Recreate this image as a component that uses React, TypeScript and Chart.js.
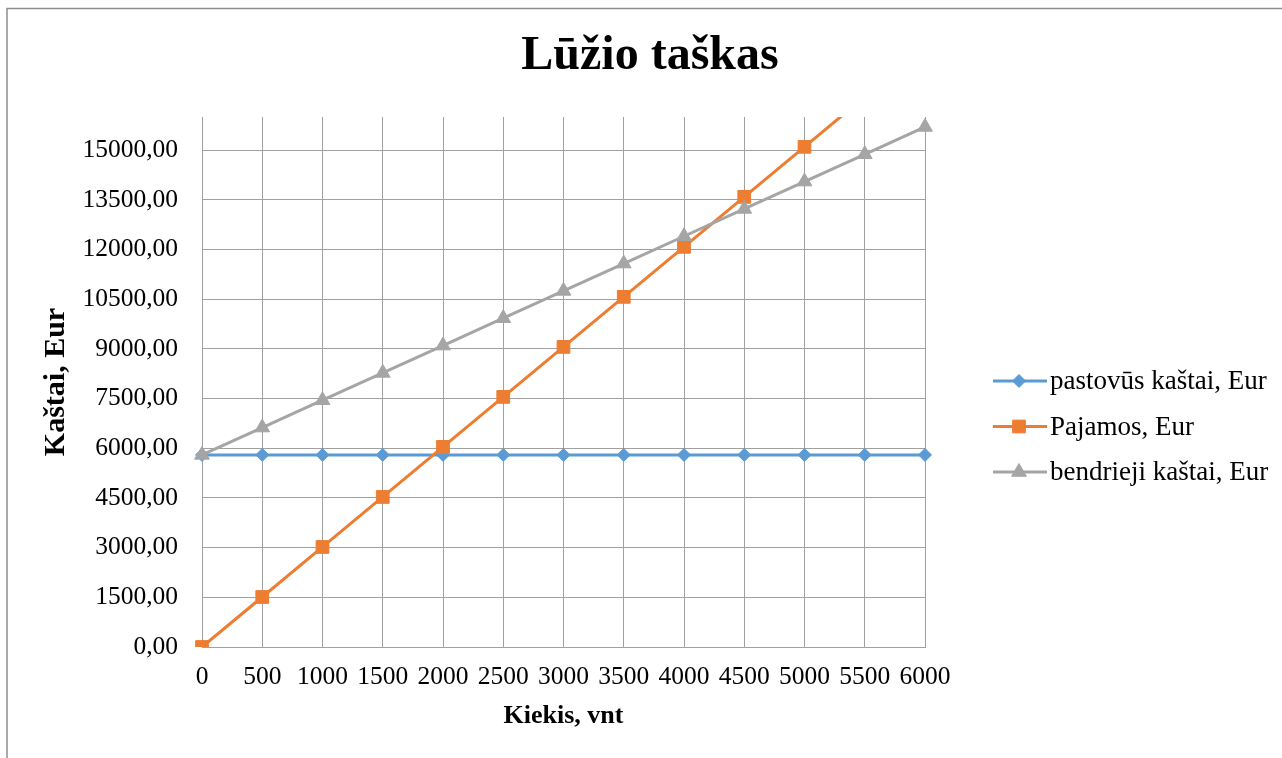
import React, { useEffect, useRef } from 'react';
import { Chart, registerables } from 'chart.js';
import { drawPoint } from 'chart.js/helpers';

Chart.register(...registerables);

const categories = ['0', '500', '1000', '1500', '2000', '2500', '3000', '3500', '4000', '4500', '5000', '5500', '6000'];
const fixedCosts = [5800, 5800, 5800, 5800, 5800, 5800, 5800, 5800, 5800, 5800, 5800, 5800, 5800];
const revenue = [0, 1510, 3020, 4530, 6040, 7550, 9060, 10570, 12080, 13590, 15100, 16610, 18120];
const totalCosts = [5800, 6625, 7450, 8275, 9100, 9925, 10750, 11575, 12400, 13225, 14050, 14875, 15700];
const yTickValues = [0, 1500, 3000, 4500, 6000, 7500, 9000, 10500, 12000, 13500, 15000];
const seriesNames = ['pastovūs kaštai, Eur', 'Pajamos, Eur', 'bendrieji kaštai, Eur'];
const seriesColors = ['#5B9BD5', '#ED7D31', '#A5A5A5'];
const seriesMarkers = ['rectRot', 'rect', 'triangle'];
const markerRadius = [6.5, 9, 8.5];
const chartTitle = 'Lūžio taškas';
const xTitle = 'Kiekis, vnt';
const yTitle = 'Kaštai, Eur';
const yMin = 0;
const yMax = 16000;

const SERIF = "'Times New Roman', 'Liberation Serif', serif";
const GRID = '#a0a0a0';

const decorPlugin = {
  id: 'decor',
  afterDraw(chart: any) {
    const ctx = chart.ctx as CanvasRenderingContext2D;
    ctx.save();
    // outer border (top & left visible)
    ctx.strokeStyle = '#8f8f8f';
    ctx.lineWidth = 1.5;
    ctx.beginPath();
    ctx.moveTo(7, 758);
    ctx.lineTo(7, 8.5);
    ctx.lineTo(1282, 8.5);
    ctx.stroke();

    // title
    ctx.fillStyle = '#000';
    ctx.font = `bold 48px ${SERIF}`;
    ctx.textAlign = 'center';
    ctx.textBaseline = 'alphabetic';
    ctx.fillText(chartTitle, 650, 69);

    // legend
    const datasets = chart.data.datasets;
    datasets.forEach((ds: any, i: number) => {
      const y = 381 + i * 45.5;
      ctx.strokeStyle = ds.borderColor;
      ctx.lineWidth = 3;
      ctx.beginPath();
      ctx.moveTo(993, y);
      ctx.lineTo(1047, y);
      ctx.stroke();
      ctx.fillStyle = ds.pointBackgroundColor;
      ctx.strokeStyle = ds.pointBorderColor;
      ctx.lineWidth = 1;
      drawPoint(ctx, { pointStyle: ds.pointStyle, radius: ds.pointRadius, borderWidth: 1, rotation: 0 } as any, 1019, y);
      ctx.fillStyle = '#000';
      ctx.font = `27px ${SERIF}`;
      ctx.textAlign = 'left';
      ctx.textBaseline = 'middle';
      ctx.fillText(ds.label, 1050, y + 1);
    });
    ctx.restore();
  },
};

const fmt = (v: number) => v.toFixed(2).replace('.', ',');

export default function App() {
  const ref = useRef<HTMLCanvasElement>(null);
  useEffect(() => {
    if (!ref.current) return;
    const series = [fixedCosts, revenue, totalCosts];
    const chart = new Chart(ref.current, {
      type: 'line',
      data: {
        labels: categories,
        datasets: series.map((d, i) => ({
          label: seriesNames[i],
          data: d,
          borderColor: seriesColors[i],
          backgroundColor: seriesColors[i],
          pointBackgroundColor: seriesColors[i],
          pointBorderColor: seriesColors[i],
          pointStyle: seriesMarkers[i] as any,
          pointRadius: markerRadius[i],
          pointBorderWidth: 1,
          borderWidth: 3,
          tension: 0,
          fill: false,
          order: 3 - i,
        })),
      },
      options: {
        animation: false,
        responsive: false,
        devicePixelRatio: 1,
        events: [],
        layout: { padding: { left: 0, top: 117, right: 357, bottom: 0 } },
        plugins: {
          legend: { display: false },
          title: { display: false },
          tooltip: { enabled: false },
        },
        scales: {
          x: {
            type: 'category',
            offset: false,
            grid: { color: GRID, lineWidth: 1, drawTicks: false },
            border: { color: GRID, width: 1 },
            ticks: { font: { family: SERIF, size: 25.5 }, color: '#000', padding: 15, maxRotation: 0, autoSkip: false },
            title: {
              display: true,
              text: xTitle,
              color: '#000',
              font: { family: SERIF, size: 26, weight: 'bold' },
              padding: { top: 0, bottom: 26 },
            },
            afterFit: (s: any) => {
              s.height = 111;
            },
          },
          y: {
            type: 'linear',
            min: yMin,
            max: yMax,
            bounds: 'data',
            grid: { color: GRID, lineWidth: 1, drawTicks: false },
            border: { color: GRID, width: 1 },
            afterBuildTicks: (s: any) => {
              s.ticks = yTickValues.map((v) => ({ value: v }));
            },
            ticks: {
              font: { family: SERIF, size: 25.5 },
              color: '#000',
              padding: 24,
              callback: (v: any) => fmt(Number(v)),
            },
            title: {
              display: true,
              text: yTitle,
              color: '#000',
              font: { family: SERIF, size: 30, weight: 'bold' },
              padding: { top: 38, bottom: 0 },
            },
            afterFit: (s: any) => {
              s.width = 202;
            },
          },
        },
      } as any,
      plugins: [decorPlugin],
    });
    return () => chart.destroy();
  }, []);
  return (
    <div style={{ position: 'fixed', left: 0, top: 0, width: 1282, height: 758, background: '#fff' }}>
      <canvas ref={ref} width={1282} height={758} style={{ display: 'block', width: 1282, height: 758 }} />
    </div>
  );
}
